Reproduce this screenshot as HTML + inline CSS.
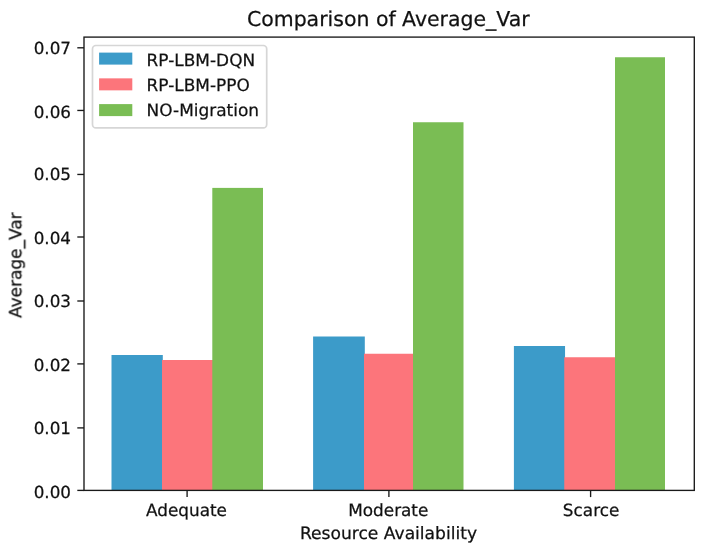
<!DOCTYPE html>
<html lang="en"><head><meta charset="utf-8"><title>Comparison of Average_Var</title>
<style>html,body{margin:0;padding:0;background:#fff}body{width:704px;height:553px;overflow:hidden}svg{display:block}text{font-family:"DejaVu Sans","Liberation Sans",sans-serif;fill:#000000;text-rendering:geometricPrecision;stroke:#000000;stroke-width:0.25px}</style></head><body>
<svg width="704" height="553" viewBox="0 0 704 553">
<rect width="704" height="553" fill="#fff"/>
<rect x="111.50" y="355.00" width="51.30" height="135.40" fill="#3c9bc9"/>
<rect x="162.00" y="360.00" width="51.10" height="130.40" fill="#fc757b"/>
<rect x="212.30" y="187.90" width="50.70" height="302.50" fill="#7abd54"/>
<rect x="313.10" y="336.50" width="51.70" height="153.90" fill="#3c9bc9"/>
<rect x="364.00" y="353.75" width="49.80" height="136.65" fill="#fc757b"/>
<rect x="413.00" y="122.25" width="50.50" height="368.15" fill="#7abd54"/>
<rect x="513.90" y="346.00" width="51.15" height="144.40" fill="#3c9bc9"/>
<rect x="564.25" y="357.25" width="51.55" height="133.15" fill="#fc757b"/>
<rect x="615.00" y="57.25" width="50.00" height="433.15" fill="#7abd54"/>
<rect x="84.00" y="37.10" width="610.30" height="453.30" fill="none" stroke="#1a1a1a" stroke-width="1.36"/>
<line x1="77.30" x2="84.00" y1="490.40" y2="490.40" stroke="#1a1a1a" stroke-width="1.36"/>
<line x1="77.30" x2="84.00" y1="427.90" y2="427.90" stroke="#1a1a1a" stroke-width="1.36"/>
<line x1="77.30" x2="84.00" y1="363.90" y2="363.90" stroke="#1a1a1a" stroke-width="1.36"/>
<line x1="77.30" x2="84.00" y1="301.00" y2="301.00" stroke="#1a1a1a" stroke-width="1.36"/>
<line x1="77.30" x2="84.00" y1="237.00" y2="237.00" stroke="#1a1a1a" stroke-width="1.36"/>
<line x1="77.30" x2="84.00" y1="174.45" y2="174.45" stroke="#1a1a1a" stroke-width="1.36"/>
<line x1="77.30" x2="84.00" y1="110.45" y2="110.45" stroke="#1a1a1a" stroke-width="1.36"/>
<line x1="77.30" x2="84.00" y1="47.80" y2="47.80" stroke="#1a1a1a" stroke-width="1.36"/>
<line x1="187.10" x2="187.10" y1="490.40" y2="497.10" stroke="#1a1a1a" stroke-width="1.36"/>
<line x1="388.90" x2="388.90" y1="490.40" y2="497.10" stroke="#1a1a1a" stroke-width="1.36"/>
<line x1="590.60" x2="590.60" y1="490.40" y2="497.10" stroke="#1a1a1a" stroke-width="1.36"/>
<rect x="92.5" y="45.5" width="174.2" height="82.4" rx="3.4" ry="3.4" fill="#fff" fill-opacity="0.8" stroke="#cccccc" stroke-opacity="0.8" stroke-width="1.7"/>
<rect x="99.1" y="52.60" width="33.2" height="12" fill="#3c9bc9"/>
<rect x="99.1" y="78.35" width="33.2" height="12" fill="#fc757b"/>
<rect x="99.1" y="104.10" width="33.2" height="12" fill="#7abd54"/>
<g opacity="0.94">
<text x="71.0" y="497.50" font-size="16.75" text-anchor="end">0.00</text>
<text x="71.0" y="433.60" font-size="16.75" text-anchor="end">0.01</text>
<text x="71.0" y="370.80" font-size="16.75" text-anchor="end">0.02</text>
<text x="71.0" y="307.10" font-size="16.75" text-anchor="end">0.03</text>
<text x="71.0" y="244.20" font-size="16.75" text-anchor="end">0.04</text>
<text x="71.0" y="180.30" font-size="16.75" text-anchor="end">0.05</text>
<text x="71.0" y="117.70" font-size="16.75" text-anchor="end">0.06</text>
<text x="71.0" y="53.50" font-size="16.75" text-anchor="end">0.07</text>
<text x="186.50" y="515.6" font-size="16.85" text-anchor="middle">Adequate</text>
<text x="388.30" y="515.6" font-size="16.85" text-anchor="middle">Moderate</text>
<text x="591.10" y="515.6" font-size="16.85" text-anchor="middle">Scarce</text>
<text x="388.5" y="538.9" font-size="17.12" text-anchor="middle">Resource Availability</text>
<text transform="translate(21.3,265.2) rotate(-90)" font-size="16.95" text-anchor="middle">Average_Var</text>
<text x="388.3" y="25.6" font-size="20.47" text-anchor="middle">Comparison of Average_Var</text>
<text x="146.6" y="65.70" font-size="16.95">RP-LBM-DQN</text>
<text x="146.6" y="90.60" font-size="16.95">RP-LBM-PPO</text>
<text x="146.6" y="115.50" font-size="16.95">NO-Migration</text>
</g>
</svg></body></html>
